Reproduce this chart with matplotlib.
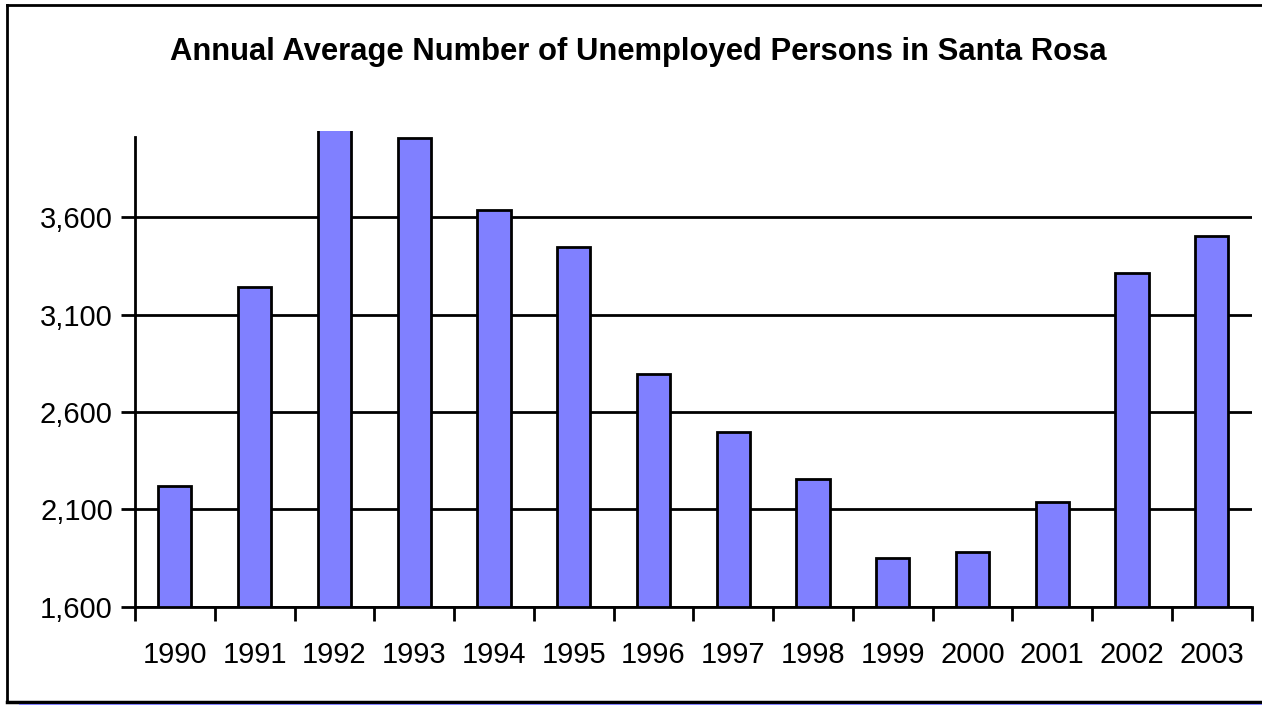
import matplotlib
matplotlib.use("Agg")
import matplotlib.pyplot as plt
from matplotlib.lines import Line2D

years = ["1990", "1991", "1992", "1993", "1994", "1995", "1996",
         "1997", "1998", "1999", "2000", "2001", "2002", "2003"]
unemployed = [2221, 3241, 4100, 4006, 3637, 3447, 2796,
              2495, 2255, 1848, 1882, 2136, 3313, 3503]
y_ticks = [1600, 2100, 2600, 3100, 3600]
y_tick_labels = ["1,600", "2,100", "2,600", "3,100", "3,600"]
title = "Annual Average Number of Unemployed Persons in Santa Rosa"

W, H = 1262, 705
fig = plt.figure(figsize=(W / 100, H / 100), dpi=100)
fig.patch.set_facecolor("white")

left, right, bottom, top = 135, 1251.7, 606.7, 131
ax = fig.add_axes([left / W, 1 - bottom / H, (right - left) / W, (bottom - top) / H])
ymin = 1600
ymax = 1600 + (bottom - top) / 0.1948
ax.set_ylim(ymin, ymax)
ax.set_xlim(-0.5, len(years) - 0.5)

x = list(range(len(years)))
ax.bar(x, [v - ymin for v in unemployed], bottom=ymin, width=1 / 2.4,
       color="#8080ff", edgecolor="black", linewidth=2, zorder=3)

for t in y_ticks:
    ax.axhline(t, color="black", linewidth=2, zorder=1)

ax.set_yticks(y_ticks)
ax.set_yticklabels(y_tick_labels, fontsize=21, family="Liberation Sans")
ax.set_xticks([i - 0.5 for i in range(len(years) + 1)])
ax.set_xticklabels([])
ax.set_xticks(x, minor=True)
ax.set_xticklabels(years, minor=True, fontsize=21, family="Liberation Sans")
ax.tick_params(axis="x", which="minor", length=0, pad=25)
ax.tick_params(axis="x", which="major", length=10, width=2, direction="out")
ax.tick_params(axis="y", length=10, width=2, direction="out", pad=6)

for s in ["top", "right"]:
    ax.spines[s].set_visible(False)
ax.spines["left"].set_linewidth(2)
ax.spines["bottom"].set_linewidth(2)
axis_top_val = 1600 + (bottom - 137) / 0.1948
ax.spines["left"].set_bounds(ymin, axis_top_val)

fig.text(638 / W, 1 - 52 / H, title, ha="center", va="center",
         fontsize=22.3, fontweight="bold", family="Liberation Sans")

# outer frame
fig.add_artist(Line2D([7 / W, 7 / W], [1 - 5 / H, 1 - 702 / H], color="black", linewidth=2, transform=fig.transFigure))
fig.add_artist(Line2D([7 / W, 1], [1 - 5 / H, 1 - 5 / H], color="black", linewidth=2, transform=fig.transFigure))
fig.add_artist(Line2D([7 / W, 1], [1 - 702 / H, 1 - 702 / H], color="black", linewidth=2.5, transform=fig.transFigure))
fig.add_artist(Line2D([20 / W, 1], [1 - 704.5 / H, 1 - 704.5 / H], color="#8080ff", linewidth=1.5, transform=fig.transFigure))

fig.savefig("out.png", dpi=100)
